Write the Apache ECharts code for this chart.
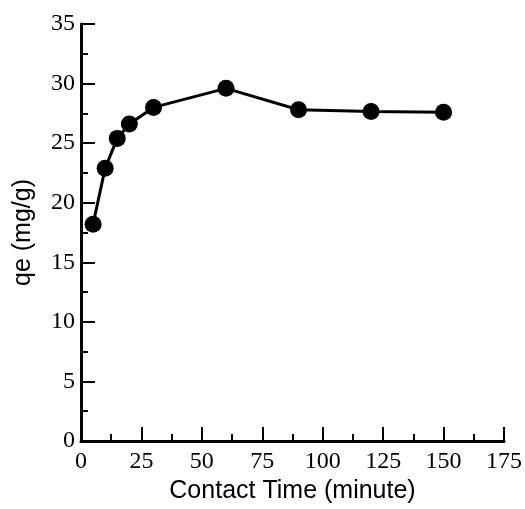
<!DOCTYPE html>
<html>
<head>
<meta charset="utf-8">
<script src="https://cdn.jsdelivr.net/npm/echarts@6/dist/echarts.min.js"></script>
<style>
  html, body { margin: 0; padding: 0; background: #fff; }
  #chart { width: 525px; height: 509px; }
</style>
</head>
<body>
<div id="chart"></div>
<script>
// contact time (minute) and adsorption capacity qe (mg/g)
const times = [5, 10, 15, 20, 30, 60, 90, 120, 150]
const qe = [18.2, 22.9, 25.4, 26.6, 28.0, 29.6, 27.8, 27.65, 27.6]

const myChart = echarts.init(document.getElementById('chart'), null, { renderer: 'canvas' })

const serif = '"Liberation Serif", "Times New Roman", "DejaVu Serif", serif'
const sans = '"Liberation Sans", Arial, sans-serif'

const axisCommon = {
  type: 'value',
  nameLocation: 'middle',
  nameTextStyle: { fontFamily: sans, fontSize: 25, color: '#000' },
  axisLine: { show: true, onZero: false, lineStyle: { color: '#000', width: 3 } },
  axisTick: { show: true, inside: true, length: 14, lineStyle: { color: '#000', width: 2 } },
  minorTick: { show: true, splitNumber: 2, length: 7, lineStyle: { color: '#000', width: 2 } },
  splitLine: { show: false }
}

const option = {
  backgroundColor: '#fff',
  animation: false,
  textStyle: { fontFamily: serif },
  grid: { left: 81, right: 20, top: 24, bottom: 65 },
  xAxis: Object.assign({}, axisCommon, {
    name: 'Contact Time (minute)',
    nameGap: 38,
    min: 0, max: 175, interval: 25,
    axisLabel: { fontFamily: serif, fontSize: 24, color: '#000', margin: 9, showMaxLabel: true }
  }),
  yAxis: Object.assign({}, axisCommon, {
    name: 'qe (mg/g)',
    nameGap: 45,
    min: 0, max: 35, interval: 5,
    axisLabel: { fontFamily: serif, fontSize: 24, color: '#000', margin: 6 }
  }),
  series: [
    {
      type: 'line',
      data: times.map((t, i) => [t, qe[i]]),
      symbol: 'circle',
      symbolSize: 17,
      itemStyle: { color: '#000' },
      lineStyle: { color: '#000', width: 3 }
    }
  ]
}

myChart.setOption(option)
</script>
</body>
</html>
